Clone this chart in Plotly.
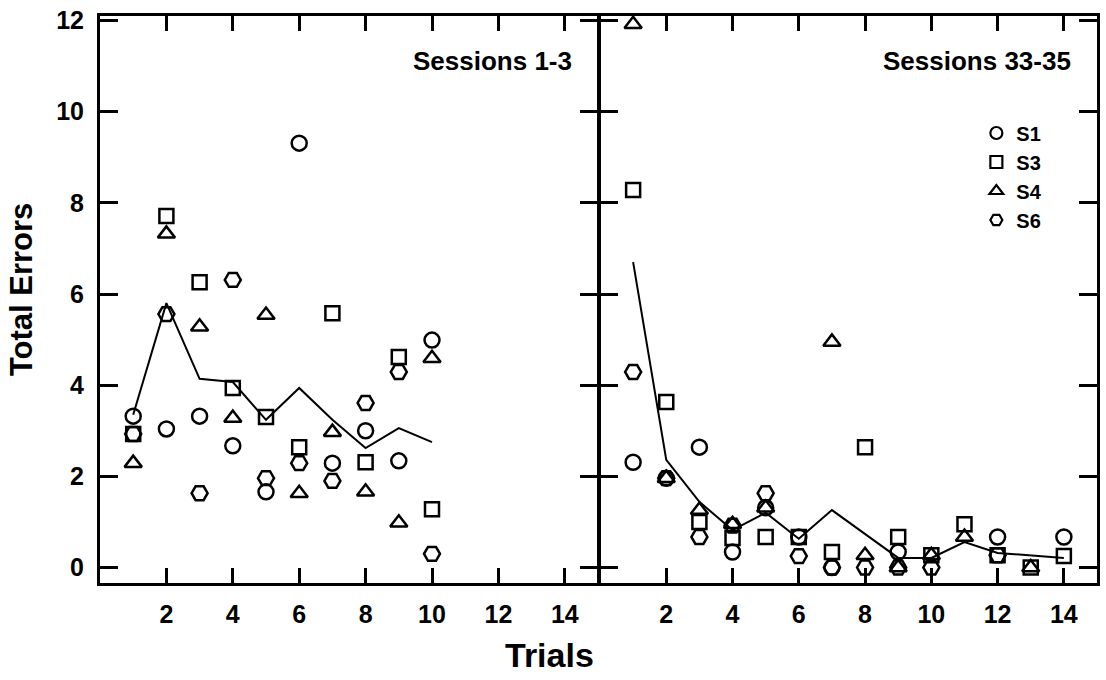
import plotly.graph_objects as go

# ---------------- data ----------------
trials_a = [1, 2, 3, 4, 5, 6, 7, 8, 9, 10]
a_S1 = [3.32, 3.04, 3.32, 2.67, 1.66, 9.31, 2.29, 3.00, 2.34, 4.99]
a_S3 = [2.93, 7.71, 6.26, 3.94, 3.30, 2.64, 5.58, 2.31, 4.62, 1.28]
a_S4 = [2.29, 7.32, 5.28, 3.28, 5.54, 1.63, 2.97, 1.66, 0.98, 4.59]
a_S6 = [2.93, 5.56, 1.63, 6.31, 1.96, 2.29, 1.90, 3.61, 4.29, 0.30]
a_line = [3.35, 5.80, 4.14, 4.07, 3.24, 3.94, 3.24, 2.62, 3.06, 2.75]

trials_b = [1, 2, 3, 4, 5, 6, 7, 8, 9, 10, 11, 12, 13, 14]
b_S1 = [2.31, 1.96, 2.64, 0.34, 1.31, 0.67, 0.00, None, 0.34, None, None, 0.67, None, 0.67]
b_S3 = [8.28, 3.63, 1.00, 0.65, 0.67, 0.67, 0.34, 2.64, 0.67, 0.27, 0.95, 0.27, 0.00, 0.25]
b_S4 = [11.92, 1.96, 1.26, 0.95, 1.31, None, 4.95, 0.27, 0.00, 0.27, 0.67, None, 0.00, None]
b_S6 = [4.29, 1.96, 0.67, 0.92, 1.63, 0.25, 0.00, 0.00, 0.00, 0.00, None, 0.27, None, None]
b_line = [6.70, 2.36, 1.44, 0.82, 1.20, 0.63, 1.26, 0.74, 0.21, 0.21, 0.56, 0.32, 0.26, 0.21]

subjects = ["S1", "S3", "S4", "S6"]
panel_titles = ["Sessions 1-3", "Sessions 33-35"]
x_ticks = [2, 4, 6, 8, 10, 12, 14]
y_ticks = [0, 2, 4, 6, 8, 10, 12]

# ---------------- style ----------------
FONT = "Liberation Sans"
symbols = {"S1": "circle-open", "S3": "square-open",
           "S4": "triangle-up-open", "S6": "hexagon2-open"}
sizes = {"S1": 15, "S3": 14, "S4": 15, "S6": 16}

fig = go.Figure()

panels = [
    ("x", "y", trials_a, {"S1": a_S1, "S3": a_S3, "S4": a_S4, "S6": a_S6}, a_line),
    ("x2", "y2", trials_b, {"S1": b_S1, "S3": b_S3, "S4": b_S4, "S6": b_S6}, b_line),
]
for xa, ya, xs, series, line in panels:
    fig.add_trace(go.Scatter(x=xs, y=line, mode="lines", xaxis=xa, yaxis=ya,
                             line=dict(color="black", width=2), showlegend=False,
                             hoverinfo="skip"))
    for s in subjects:
        fig.add_trace(go.Scatter(x=xs, y=series[s], mode="markers", xaxis=xa, yaxis=ya,
                                 marker=dict(symbol=symbols[s], size=sizes[s], color="black",
                                             line=dict(color="black", width=2.5)),
                                 name=s, showlegend=False))

# legend-only entries
for s in subjects:
    fig.add_trace(go.Scatter(x=[None], y=[None], mode="markers", xaxis="x2", yaxis="y2",
                             marker=dict(symbol=symbols[s], size=12, color="black",
                                         line=dict(color="black", width=2.2)),
                             name=s, showlegend=True))

axis_common = dict(showline=True, linecolor="black", linewidth=3, mirror="ticks",
                   ticks="inside", tickcolor="black", tickwidth=2.5,
                   showgrid=False, zeroline=False,
                   tickfont=dict(family=FONT, size=25, color="black", weight="bold"))

fig.update_layout(
    width=1106, height=680,
    margin=dict(l=100, r=6, t=16, b=97),
    paper_bgcolor="white", plot_bgcolor="white",
    xaxis=dict(domain=[0, 0.4995], range=[0, 15], tickvals=x_ticks, ticklen=15,
               ticklabelstandoff=7, anchor="y", **axis_common),
    xaxis2=dict(domain=[0.5015, 1], range=[0, 15], tickvals=x_ticks, ticklen=15,
                ticklabelstandoff=7, anchor="y2", **axis_common),
    yaxis=dict(domain=[0, 1], range=[-0.34, 12.1], tickvals=y_ticks, ticklen=18,
               ticklabelstandoff=8, anchor="x", **axis_common),
    yaxis2=dict(domain=[0, 1], range=[-0.34, 12.1], tickvals=y_ticks, ticklen=18,
                showticklabels=False, anchor="x2", **axis_common),
    showlegend=True,
    legend=dict(x=0.879, y=0.828, xanchor="left", yanchor="top",
                bgcolor="rgba(0,0,0,0)", borderwidth=0, tracegroupgap=0,
                font=dict(family=FONT, size=20, color="black", weight="bold")),
    annotations=[
        dict(text=panel_titles[0], xref="paper", yref="paper", x=0.475, y=0.921,
             xanchor="right", yanchor="middle", showarrow=False,
             font=dict(family=FONT, size=26, color="black", weight="bold")),
        dict(text=panel_titles[1], xref="paper", yref="paper", x=0.976, y=0.921,
             xanchor="right", yanchor="middle", showarrow=False,
             font=dict(family=FONT, size=26, color="black", weight="bold")),
        dict(text="Trials", xref="paper", yref="paper", x=0.451, y=-0.127,
             xanchor="center", yanchor="middle", showarrow=False,
             font=dict(family=FONT, size=34, color="black", weight="bold")),
        dict(text="Total Errors", xref="paper", yref="paper", x=-0.078, y=0.517,
             xanchor="center", yanchor="middle", showarrow=False, textangle=-90,
             font=dict(family=FONT, size=31, color="black", weight="bold")),
    ],
)

fig.write_html("out.html")
